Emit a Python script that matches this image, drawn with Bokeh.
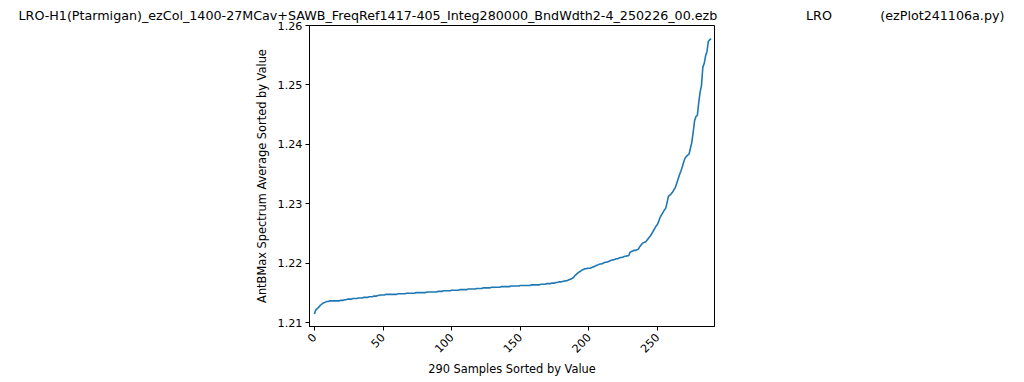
import math
from bokeh.plotting import figure
from bokeh.models import Range1d, FixedTicker, Title
from bokeh.embed import file_html
from bokeh.resources import INLINE

title_main = "LRO-H1(Ptarmigan)_ezCol_1400-27MCav+SAWB_FreqRef1417-405_Integ280000_BndWdth2-4_250226_00.ezb"
title_mid = "LRO"
title_right = "(ezPlot241106a.py)"
x_label = "290 Samples Sorted by Value"
y_label = "AntBMax Spectrum Average Sorted by Value"

x_ticks = [0, 50, 100, 150, 200, 250]
y_ticks = [1.21, 1.22, 1.23, 1.24, 1.25, 1.26]

values = [
    1.2115, 1.2122, 1.2124, 1.2126, 1.2129, 1.2131, 1.2133, 1.2134, 1.2135, 1.2136,
    1.2136, 1.2137, 1.2137, 1.2137, 1.2137, 1.2137, 1.2137, 1.2137, 1.2137, 1.2138,
    1.2138, 1.2138, 1.2139, 1.2139, 1.2140, 1.2140, 1.2140, 1.2140, 1.2141, 1.2141,
    1.2141, 1.2141, 1.2142, 1.2142, 1.2142, 1.2142, 1.2143, 1.2143, 1.2143, 1.2143,
    1.2144, 1.2144, 1.2144, 1.2145, 1.2145, 1.2145, 1.2146, 1.2146, 1.2147, 1.2147,
    1.2147, 1.2147, 1.2148, 1.2148, 1.2148, 1.2148, 1.2148, 1.2148, 1.2148, 1.2148,
    1.2148, 1.2149, 1.2149, 1.2149, 1.2149, 1.2149, 1.2149, 1.2150, 1.2150, 1.2150,
    1.2150, 1.2150, 1.2150, 1.2150, 1.2151, 1.2151, 1.2151, 1.2151, 1.2151, 1.2151,
    1.2151, 1.2151, 1.2152, 1.2152, 1.2152, 1.2152, 1.2152, 1.2152, 1.2152, 1.2152,
    1.2153, 1.2153, 1.2153, 1.2153, 1.2154, 1.2154, 1.2154, 1.2154, 1.2154, 1.2154,
    1.2155, 1.2155, 1.2155, 1.2155, 1.2155, 1.2155, 1.2156, 1.2156, 1.2156, 1.2156,
    1.2156, 1.2156, 1.2157, 1.2157, 1.2157, 1.2157, 1.2157, 1.2157, 1.2158, 1.2158,
    1.2158, 1.2158, 1.2158, 1.2159, 1.2159, 1.2159, 1.2159, 1.2159, 1.2159, 1.2160,
    1.2160, 1.2160, 1.2160, 1.2160, 1.2160, 1.2160, 1.2161, 1.2161, 1.2161, 1.2161,
    1.2161, 1.2161, 1.2161, 1.2162, 1.2162, 1.2162, 1.2162, 1.2162, 1.2162, 1.2162,
    1.2163, 1.2163, 1.2163, 1.2163, 1.2163, 1.2163, 1.2163, 1.2163, 1.2164, 1.2164,
    1.2164, 1.2164, 1.2164, 1.2164, 1.2164, 1.2165, 1.2165, 1.2165, 1.2165, 1.2166,
    1.2166, 1.2166, 1.2166, 1.2167, 1.2167, 1.2167, 1.2168, 1.2168, 1.2169, 1.2169,
    1.2169, 1.2170, 1.2170, 1.2171, 1.2171, 1.2172, 1.2173, 1.2174, 1.2175, 1.2177,
    1.2180, 1.2182, 1.2184, 1.2186, 1.2187, 1.2189, 1.2190, 1.2191, 1.2191, 1.2192,
    1.2192, 1.2192, 1.2193, 1.2194, 1.2195, 1.2196, 1.2197, 1.2198, 1.2199, 1.2199,
    1.2200, 1.2201, 1.2202, 1.2202, 1.2203, 1.2204, 1.2205, 1.2206, 1.2206, 1.2207,
    1.2208, 1.2208, 1.2209, 1.2210, 1.2210, 1.2211, 1.2212, 1.2212, 1.2213, 1.2213,
    1.2219, 1.2220, 1.2221, 1.2222, 1.2222, 1.2223, 1.2224, 1.2228, 1.2231, 1.2234,
    1.2235, 1.2236, 1.2238, 1.2241, 1.2244, 1.2247, 1.2251, 1.2255, 1.2259, 1.2263,
    1.2266, 1.2272, 1.2278, 1.2282, 1.2286, 1.2290, 1.2293, 1.2303, 1.2313, 1.2315,
    1.2317, 1.2320, 1.2324, 1.2328, 1.2335, 1.2342, 1.2349, 1.2355, 1.2362, 1.2370,
    1.2377, 1.2380, 1.2382, 1.2384, 1.2394, 1.2404, 1.2421, 1.2440, 1.2447, 1.2449,
    1.2470, 1.2488, 1.2499, 1.2530, 1.2536, 1.2549, 1.2556, 1.2573, 1.2576, 1.2578,
]
samples = list(range(len(values)))

FONT = "DejaVu Sans"

W, H = 1024, 382
FL, FR, FT, FB = 309, 714, 25, 326   # frame edges in page pixels
X0, X1 = -3.6, 291.5
Y0, Y1 = 1.2094, 1.2600

NB = "\u00a0"
header = title_main + NB * 22 + title_mid + NB * 12 + title_right

p = figure(
    width=W, height=H,
    output_backend="svg", toolbar_location=None,
    x_range=Range1d(X0, X1), y_range=Range1d(Y0, Y1),
    min_border_left=FL, min_border_right=W - FR,
    min_border_top=FT, min_border_bottom=H - FB,
)
p.title = Title(text=header, align="left", offset=18 - FL, standoff=5,
                text_font=FONT, text_font_size="12.7px", text_font_style="normal",
                text_color="black")
p.background_fill_color = "white"
p.border_fill_color = "white"
p.outline_line_color = "black"
p.outline_line_width = 1
p.xgrid.visible = False
p.ygrid.visible = False

p.line(samples, values, line_color="#1f77b4", line_width=1.6)

for ax in (p.xaxis[0], p.yaxis[0]):
    ax.axis_line_color = "black"
    ax.major_tick_line_color = "black"
    ax.major_tick_out = 4
    ax.major_tick_in = 0
    ax.minor_tick_out = 0
    ax.minor_tick_in = 0
    ax.major_label_text_font = FONT
    ax.major_label_text_font_size = "11.2px"
    ax.major_label_text_color = "black"
    ax.axis_label_text_font = FONT
    ax.axis_label_text_font_size = "11.4px"
    ax.axis_label_text_font_style = "normal"
    ax.axis_label_text_color = "black"

p.xaxis.ticker = FixedTicker(ticks=x_ticks)
p.yaxis.ticker = FixedTicker(ticks=y_ticks)
p.xaxis.major_label_orientation = math.pi / 4
p.xaxis.axis_label = x_label
p.yaxis.axis_label = y_label
p.xaxis.axis_label_standoff = 3
p.yaxis.axis_label_standoff = 6
p.yaxis.major_label_standoff = 3

html = file_html(p, INLINE)
open("out.html", "w").write(html)
